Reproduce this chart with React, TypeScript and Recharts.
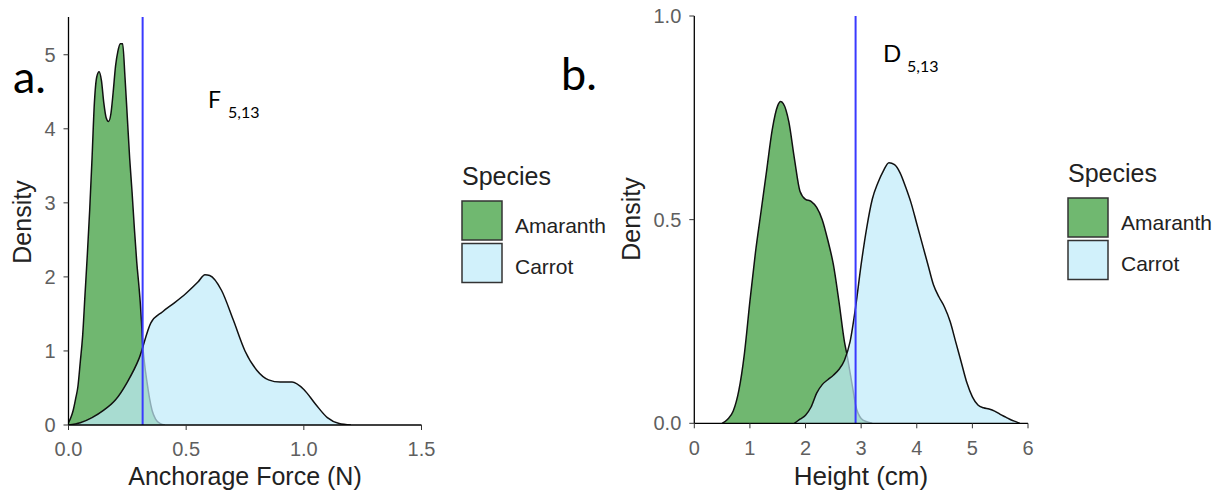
import React from "react";
import { Area, AreaChart, ReferenceLine, XAxis, YAxis } from "recharts";

// panel a: anchorage force (N)
const forceAmaranthX = [0, 0.01, 0.02, 0.03, 0.04, 0.05, 0.06, 0.07, 0.08, 0.09, 0.1, 0.11, 0.12, 0.13, 0.14, 0.15, 0.16, 0.17, 0.18, 0.19, 0.2, 0.21, 0.22, 0.23, 0.24, 0.25, 0.26, 0.27, 0.28, 0.29, 0.3, 0.305, 0.31, 0.315, 0.32, 0.325, 0.335, 0.345, 0.355, 0.37, 0.39, 0.41];
const forceAmaranthY = [0.03, 0.1, 0.2, 0.35, 0.52, 0.85, 1.2, 1.75, 2.3, 2.9, 3.6, 4.35, 4.7, 4.77, 4.65, 4.35, 4.15, 4.1, 4.2, 4.5, 4.85, 5.05, 5.15, 5.15, 4.7, 4.15, 3.6, 3.15, 2.65, 2.2, 1.85, 1.65, 1.4, 1.1, 0.92, 0.78, 0.55, 0.35, 0.2, 0.08, 0.02, 0];
const forceCarrotX = [0, 0.05, 0.1, 0.15, 0.2, 0.25, 0.3, 0.35, 0.4, 0.45, 0.5, 0.55, 0.58, 0.6, 0.65, 0.7, 0.75, 0.8, 0.85, 0.9, 0.95, 1.0, 1.05, 1.1, 1.15, 1.2];
const forceCarrotY = [0, 0.03, 0.1, 0.2, 0.34, 0.58, 0.9, 1.38, 1.53, 1.65, 1.78, 1.93, 2.03, 2.02, 1.82, 1.42, 1.0, 0.74, 0.61, 0.58, 0.58, 0.48, 0.28, 0.1, 0.02, 0];

// panel b: height (cm)
const heightAmaranthX = [0.5, 0.6, 0.7, 0.8, 0.9, 1.0, 1.1, 1.2, 1.3, 1.4, 1.5, 1.55, 1.6, 1.7, 1.8, 1.9, 2.0, 2.1, 2.2, 2.3, 2.4, 2.5, 2.6, 2.7, 2.75, 2.8, 2.85, 2.9, 3.0, 3.1, 3.2];
const heightAmaranthY = [0, 0.01, 0.03, 0.08, 0.17, 0.3, 0.42, 0.52, 0.62, 0.72, 0.78, 0.79, 0.785, 0.74, 0.65, 0.57, 0.55, 0.545, 0.53, 0.5, 0.45, 0.39, 0.3, 0.2, 0.165, 0.125, 0.085, 0.045, 0.012, 0.004, 0];
const heightCarrotX = [1.8, 1.9, 2.0, 2.1, 2.2, 2.3, 2.4, 2.5, 2.6, 2.7, 2.8, 2.9, 3.0, 3.1, 3.2, 3.3, 3.4, 3.5, 3.6, 3.7, 3.8, 3.9, 4.0, 4.1, 4.2, 4.3, 4.4, 4.5, 4.6, 4.7, 4.8, 4.9, 5.0, 5.1, 5.2, 5.3, 5.4, 5.5, 5.6, 5.7, 5.8, 5.85];
const heightCarrotY = [0, 0.01, 0.02, 0.04, 0.074, 0.095, 0.107, 0.118, 0.132, 0.155, 0.2, 0.285, 0.39, 0.48, 0.55, 0.59, 0.62, 0.64, 0.635, 0.615, 0.58, 0.54, 0.49, 0.44, 0.39, 0.34, 0.31, 0.285, 0.25, 0.2, 0.15, 0.1, 0.065, 0.045, 0.038, 0.035, 0.03, 0.022, 0.015, 0.008, 0.003, 0];

const forceTicksX = [0, 0.5, 1, 1.5];
const forceTicksY = [0, 1, 2, 3, 4, 5];
const heightTicksX = [0, 1, 2, 3, 4, 5, 6];
const heightTicksY = [0, 0.5, 1];

const species = ["Amaranth", "Carrot"];
const forceCut = 0.315;
const heightCut = 2.9;

const GREEN = "#339933";
const BLUE = "#bfebf9";

function merge(ax: number[], ay: number[], cx: number[], cy: number[]) {
  const xs = Array.from(new Set([...ax, ...cx])).sort((a, b) => a - b);
  return xs.map((x) => {
    const i = ax.indexOf(x);
    const j = cx.indexOf(x);
    return { x, amaranth: i >= 0 ? ay[i] : null, carrot: j >= 0 ? cy[j] : null };
  });
}

const forceData = merge(forceAmaranthX, forceAmaranthY, forceCarrotX, forceCarrotY);
const heightData = merge(heightAmaranthX, heightAmaranthY, heightCarrotX, heightCarrotY);

const tickStyle = { fill: "#5f5f5f", fontSize: 20, fontFamily: "Liberation Sans" };

function Panel({ data, left, margin, xDomain, xTicks, yDomain, yTicks, xFmt, yFmt, cut, xHeight }: any) {
  return (
    <div style={{ position: "absolute", left, top: 0 }}>
      <AreaChart width={440} height={497} data={data} margin={margin}>
        <XAxis
          type="number"
          dataKey="x"
          domain={xDomain}
          ticks={xTicks}
          tickFormatter={xFmt}
          allowDataOverflow
          height={xHeight}
          axisLine={{ stroke: "#000", strokeWidth: 1.3 }}
          tickLine={{ stroke: "#333" }}
          tickSize={5}
          tickMargin={12}
          tick={tickStyle}
        />
        <YAxis
          type="number"
          domain={yDomain}
          ticks={yTicks}
          tickFormatter={yFmt}
          allowDataOverflow
          width={40}
          axisLine={{ stroke: "#000", strokeWidth: 1.3 }}
          tickLine={{ stroke: "#333" }}
          tickSize={5}
          tickMargin={8}
          tick={tickStyle}
        />
        <Area
          type="monotone"
          dataKey="amaranth"
          connectNulls
          fill={GREEN}
          fillOpacity={0.7}
          stroke="#111"
          strokeWidth={1.5}
          isAnimationActive={false}
        />
        <Area
          type="monotone"
          dataKey="carrot"
          connectNulls
          fill={BLUE}
          fillOpacity={0.71}
          stroke="#111"
          strokeWidth={1.5}
          isAnimationActive={false}
        />
        <ReferenceLine x={cut} stroke="#3a3aff" strokeWidth={2} />
      </AreaChart>
    </div>
  );
}

function Legend({ x, y }: { x: number; y: number }) {
  const font = { fontFamily: "Liberation Sans", fill: "#222" };
  return (
    <g>
      <text x={x} y={y} fontSize={25} {...font}>Species</text>
      {species.map((s, i) => (
        <g key={s}>
          <rect
            x={x}
            y={y + 16 + i * 42.5}
            width={40}
            height={39}
            fill={i === 0 ? "#70b870" : "#d1f1fb"}
            stroke="#333"
            strokeWidth={1.5}
          />
          <text x={x + 53} y={y + 48 + i * 41} fontSize={21} {...font}>{s}</text>
        </g>
      ))}
    </g>
  );
}

export default function App() {
  const title = { fontFamily: "Liberation Sans", fill: "#222" };
  const note = { fontFamily: "Lato", fill: "#000" };
  return (
    <div style={{ position: "absolute", left: 0, top: 0, width: 1228, height: 497, background: "#fff" }}>
      <Panel
        data={forceData}
        left={0}
        margin={{ top: 17, right: 18.5, left: 28.5, bottom: 0 }}
        xDomain={[0, 1.5]}
        xTicks={forceTicksX}
        yDomain={[0, 5.51]}
        yTicks={forceTicksY}
        xFmt={(v: number) => v.toFixed(1)}
        yFmt={(v: number) => String(v)}
        cut={forceCut}
        xHeight={72}
      />
      <Panel
        data={heightData}
        left={600}
        margin={{ top: 16, right: 12, left: 54.3, bottom: 0 }}
        xDomain={[0, 6]}
        xTicks={heightTicksX}
        yDomain={[0, 1]}
        yTicks={heightTicksY}
        xFmt={(v: number) => String(v)}
        yFmt={(v: number) => v.toFixed(1)}
        cut={heightCut}
        xHeight={73.7}
      />
      <svg width={1228} height={497} style={{ position: "absolute", left: 0, top: 0, pointerEvents: "none" }}>
        <text x={13} y={93} fontSize={45} {...note}>a.</text>
        <text x={561} y={90} fontSize={45} {...note}>b.</text>
        <text x={208} y={108} fontSize={23} {...note}>F</text>
        <text x={228} y={118} fontSize={16} {...note}>5,13</text>
        <text x={883} y={62} fontSize={24} {...note}>D</text>
        <text x={907} y={72} fontSize={16} {...note}>5,13</text>

        <text x={245} y={485} fontSize={25} textAnchor="middle" {...title}>Anchorage Force (N)</text>
        <text x={861} y={485} fontSize={26} textAnchor="middle" {...title}>Height (cm)</text>
        <text transform="translate(31,222) rotate(-90)" fontSize={25} textAnchor="middle" {...title}>Density</text>
        <text transform="translate(640,219) rotate(-90)" fontSize={25} textAnchor="middle" {...title}>Density</text>

        <Legend x={462} y={185} />
        <Legend x={1068} y={182} />
      </svg>
    </div>
  );
}
